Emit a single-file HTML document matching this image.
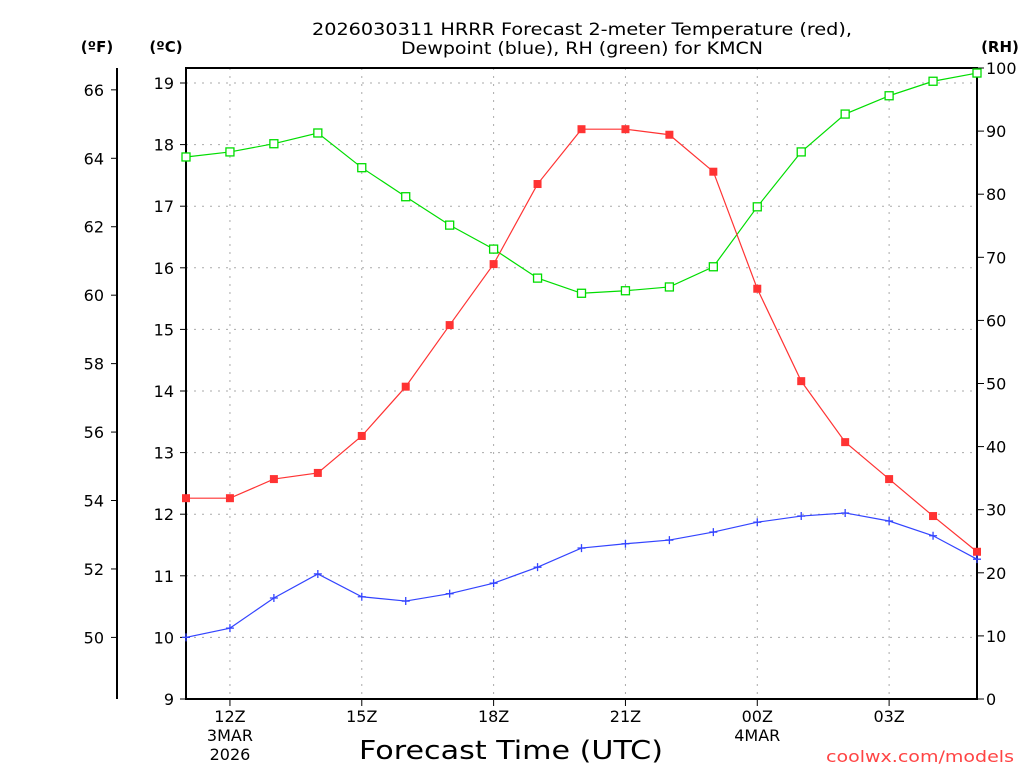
<!DOCTYPE html>
<html><head><meta charset="utf-8"><style>
body{margin:0;background:#fff;}
svg text{font-family:"DejaVu Sans","Liberation Sans",sans-serif;}
</style></head><body>
<svg id="chart" width="1024" height="768" xmlns="http://www.w3.org/2000/svg">
<g id="grid"></g>
<g id="axes"></g>
<g id="series"></g>
<text x="582" y="35" text-anchor="middle" font-size="17" fill="#000" textLength="540" lengthAdjust="spacingAndGlyphs">2026030311 HRRR Forecast 2-meter Temperature (red),</text>
<text x="582" y="54" text-anchor="middle" font-size="17" fill="#000" textLength="362" lengthAdjust="spacingAndGlyphs">Dewpoint (blue), RH (green) for KMCN</text>
<text x="97" y="52" text-anchor="middle" font-size="15" font-weight="bold">(ºF)</text>
<text x="166" y="52" text-anchor="middle" font-size="15" font-weight="bold">(ºC)</text>
<text x="1000" y="52" text-anchor="middle" font-size="15" font-weight="bold">(RH)</text>
<text x="511" y="759" text-anchor="middle" font-size="26" textLength="304" lengthAdjust="spacingAndGlyphs">Forecast Time (UTC)</text>
<text x="1014" y="762" text-anchor="end" font-size="16" fill="#ff4444" textLength="188" lengthAdjust="spacingAndGlyphs">coolwx.com/models</text>
</svg>
<script>
const hours=[11,12,13,14,15,16,17,18,19,20,21,22,23,24,25,26,27,28,29];
const tempC=[12.26,12.26,12.57,12.67,13.27,14.07,15.07,16.06,17.36,18.25,18.25,18.16,17.56,15.66,14.16,13.17,12.57,11.97,11.39];
const dewC=[10.0,10.15,10.64,11.03,10.66,10.59,10.71,10.88,11.14,11.45,11.52,11.58,11.71,11.87,11.97,12.02,11.89,11.65,11.27];
const rh=[85.9,86.7,88.0,89.7,84.2,79.6,75.1,71.3,66.7,64.3,64.7,65.3,68.5,78.0,86.7,92.7,95.6,97.9,99.2];
const cTicks=[9,10,11,12,13,14,15,16,17,18,19];
const fTicks=[50,52,54,56,58,60,62,64,66];
const rhTicks=[0,10,20,30,40,50,60,70,80,90,100];
const xTickHours=[12,15,18,21,24,27];
const xTickLabels=["12Z","15Z","18Z","21Z","00Z","03Z"];
const xSubLabels=[["3MAR","2026"],[],[],[],["4MAR"],[]];

const L=186,R=977,T=68,B=699;
const x=h=>L+(h-11)*(R-L)/18;
const yC=c=>699-(c-9)*61.6;
const yF=f=>yC((f-32)*5/9);
const yRH=v=>B-v*(B-T)/100;
const NS="http://www.w3.org/2000/svg";
function mk(tag,attrs,parent){const e=document.createElementNS(NS,tag);for(const k in attrs)e.setAttribute(k,attrs[k]);parent.appendChild(e);return e;}
const grid=document.getElementById('grid'),axes=document.getElementById('axes'),series=document.getElementById('series');

cTicks.forEach(c=>{
  const y=yC(c);
  if(c>9&&c<=19){const g=mk('line',{x1:L,x2:R,y1:y,y2:y,stroke:'#aaa','stroke-dasharray':'2,6'},grid);
  
  }
  mk('line',{x1:L-6,x2:L,y1:y,y2:y,stroke:'#000'},axes);
  const t=mk('text',{x:L-12,y:y+6,'text-anchor':'end','font-size':'16'},axes);t.textContent=c;
  
  
});
xTickHours.forEach((h,i)=>{
  const xx=x(h);
  const g=mk('line',{x1:xx,x2:xx,y1:T,y2:B,stroke:'#aaa','stroke-dasharray':'2,6'},grid);
  
  
  mk('line',{x1:xx,x2:xx,y1:B,y2:B+7,stroke:'#000'},axes);
  const t=mk('text',{x:xx,y:722,'text-anchor':'middle','font-size':'16'},axes);t.textContent=xTickLabels[i];
  
  
  xSubLabels[i].forEach((s,j)=>{const u=mk('text',{x:xx,y:741+j*19,'text-anchor':'middle','font-size':'16'},axes);u.textContent=s;
  
  });
});
mk('line',{x1:117,x2:117,y1:T,y2:B,stroke:'#000','stroke-width':2},axes);
fTicks.forEach(f=>{const y=yF(f);mk('line',{x1:111,x2:117,y1:y,y2:y,stroke:'#000'},axes);
  const t=mk('text',{x:104,y:y+6,'text-anchor':'end','font-size':'16'},axes);t.textContent=f;
  
  });
rhTicks.forEach(v=>{const y=yRH(v);mk('line',{x1:R,x2:R+7,y1:y,y2:y,stroke:'#000'},axes);
  const t=mk('text',{x:986,y:y+6,'font-size':'16'},axes);t.textContent=v;
  
  });
const box=mk('rect',{x:L,y:T,width:R-L,height:B-T,fill:'none',stroke:'#000','stroke-width':2},axes);



function line(vals,yf,color,name){
  const p=mk('polyline',{points:vals.map((v,i)=>x(hours[i])+','+yf(v)).join(' '),fill:'none',stroke:color,'stroke-width':1.2},series);
  
  
}
line(rh,yRH,'#00dd00','rh-line');
line(tempC,yC,'#ff3333','temperature-line');
line(dewC,yC,'#3344ff','dewpoint-line');
rh.forEach((v,i)=>{const m=mk('rect',{x:x(hours[i])-4,y:yRH(v)-4,width:8,height:8,fill:'#fff',stroke:'#00dd00','stroke-width':1.3},series);
  
  });
tempC.forEach((v,i)=>{const m=mk('rect',{x:x(hours[i])-4,y:yC(v)-4,width:8,height:8,fill:'#ff3333'},series);
  
  });
dewC.forEach((v,i)=>{const xx=x(hours[i]),yy=yC(v);
  const m=mk('path',{d:`M${xx-4},${yy}H${xx+4}M${xx},${yy-4}V${yy+4}`,stroke:'#3344ff','stroke-width':1.3},series);
  
  });
</script>
</body></html>
